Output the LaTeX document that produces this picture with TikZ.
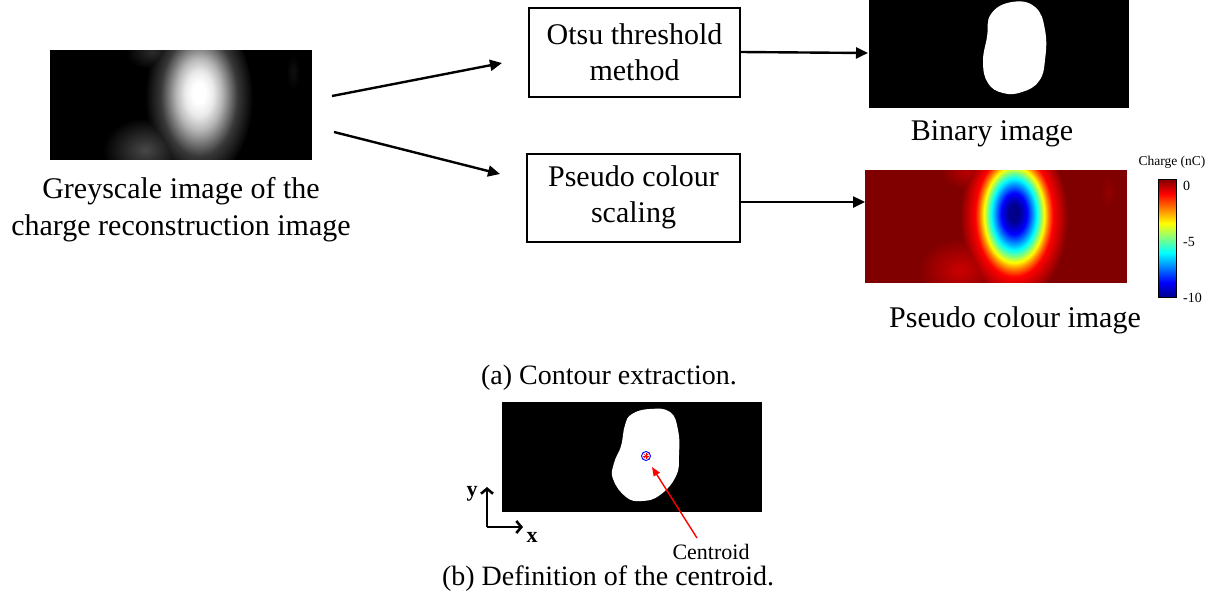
\documentclass[tikz,border=0pt]{standalone}
\usepackage{fontspec}
\setmainfont{Liberation Serif}
\usetikzlibrary{arrows.meta}
\definecolor{jdb}{rgb}{0,0,0.55}
\definecolor{jb}{rgb}{0,0,1}
\definecolor{jlb}{rgb}{0,0.5,1}
\definecolor{jc}{rgb}{0,1,1}
\definecolor{jg}{rgb}{0.5,1,0.5}
\definecolor{jy}{rgb}{1,1,0}
\definecolor{jo}{rgb}{1,0.5,0}
\definecolor{jr}{rgb}{1,0,0}
\definecolor{jdr}{rgb}{0.5,0,0}
\definecolor{gA}{gray}{1}
\definecolor{gB}{gray}{0.92}
\definecolor{gC}{gray}{0.72}
\definecolor{gD}{gray}{0.48}
\definecolor{gE}{gray}{0.22}
\definecolor{geA}{gray}{0.28}
\definecolor{geB}{gray}{0.17}
\definecolor{geC}{gray}{0.06}
\definecolor{peA}{rgb}{0.8,0,0}
\definecolor{peB}{rgb}{0.72,0,0}
\definecolor{peC}{rgb}{0.58,0,0}
\pgfdeclareradialshading{greyglow}{\pgfpoint{0bp}{2.5bp}}{color(0bp)=(gA); color(3bp)=(gA); color(6.5bp)=(gB); color(10.5bp)=(gC); color(14bp)=(gD); color(17.8bp)=(gE); color(25bp)=(black); color(50bp)=(black)}
\pgfdeclareradialshading{jetglow}{\pgfpoint{0bp}{2.5bp}}{color(0bp)=(jdb); color(2.5bp)=(jdb); color(6bp)=(jb); color(8.3bp)=(jlb); color(10.5bp)=(jc); color(12.3bp)=(jg); color(14bp)=(jy); color(15.8bp)=(jo); color(18bp)=(jr); color(25bp)=(jdr); color(50bp)=(jdr)}
\pgfdeclareradialshading{gextA}{\pgfpoint{0bp}{0bp}}{color(0bp)=(geA); color(25bp)=(black); color(50bp)=(black)}
\pgfdeclareradialshading{gextB}{\pgfpoint{0bp}{0bp}}{color(0bp)=(geB); color(25bp)=(black); color(50bp)=(black)}
\pgfdeclareradialshading{gextC}{\pgfpoint{0bp}{0bp}}{color(0bp)=(geC); color(25bp)=(black); color(50bp)=(black)}
\pgfdeclareradialshading{pextA}{\pgfpoint{0bp}{0bp}}{color(0bp)=(peA); color(25bp)=(jdr); color(50bp)=(jdr)}
\pgfdeclareradialshading{pextB}{\pgfpoint{0bp}{0bp}}{color(0bp)=(peB); color(25bp)=(jdr); color(50bp)=(jdr)}
\pgfdeclareradialshading{pextC}{\pgfpoint{0bp}{0bp}}{color(0bp)=(peC); color(25bp)=(jdr); color(50bp)=(jdr)}
\pgfdeclareverticalshading{jetbar}{100bp}{color(0bp)=(jdb); color(25bp)=(jdb); color(31.25bp)=(jb); color(43.75bp)=(jc); color(56.25bp)=(jy); color(68.75bp)=(jr); color(75bp)=(jdr); color(100bp)=(jdr)}
\newcommand\mainfs{\fontsize{30}{36}\selectfont}
\newcommand\capfs{\fontsize{28}{33}\selectfont}
\tikzset{
  procbox/.style={draw, line width=2pt, inner sep=0pt, align=center, font=\mainfs},
  imgnode/.style={inner sep=0pt, outer sep=0pt},
  lbl/.style={inner sep=0pt, align=center, font=\mainfs},
  arr/.style={line width=2.4pt, -{Triangle[length=12pt,width=11pt]}},
  axarr/.style={line width=2.6pt, -{Straight Barb[length=5pt,width=12pt]}},
}
\begin{document}
\begin{tikzpicture}[x=1pt,y=-1pt]
\useasboundingbox (0,0) rectangle (1222,598);
% ---- greyscale image
\node[imgnode, minimum width=262pt, minimum height=110pt] (grey) at (181,105) {};
\fill[black] (50,50) rectangle (312,160);
\begin{scope}
\clip (50.6,50.6) rectangle (311.4,159.4);
\shade[shading=greyglow] (199,101) ellipse (54 and 85);
\begin{scope}[blend mode=lighten]
\shade[shading=gextA] (145,150) ellipse (42 and 32);
\shade[shading=gextB] (152,52) ellipse (26 and 17);
\shade[shading=gextC] (293,72) ellipse (7 and 18);
\end{scope}
\end{scope}
\node[lbl] (greylbl) at (181,210) {Greyscale image of the\\[1pt]charge reconstruction image};
% ---- process boxes
\node[procbox, minimum width=211pt, minimum height=89pt] (otsu) at (634.5,52.5) {Otsu threshold\\method};
\node[procbox, minimum width=213pt, minimum height=88pt] (pcs) at (633.5,197.5) {Pseudo colour\\scaling};
% ---- binary image
\node[imgnode, minimum width=260pt, minimum height=108pt] (bin) at (999,54) {};
\fill[black] (869,0) rectangle (1129,108);
\fill[white] plot[smooth cycle, tension=0.75] coordinates {(1012,2) (1035,7) (1045,30) (1045,60) (1039,81) (1022,92) (1003,93) (988,83) (983,62) (987,37) (991,14)};
\node[lbl] (binlbl) at (992,134) {Binary image};
% ---- pseudo colour image
\node[imgnode, minimum width=262pt, minimum height=113pt] (pimg) at (996,226.5) {};
\fill[jdr] (865,170) rectangle (1127,283);
\begin{scope}
\clip (865.6,170.6) rectangle (1126.4,282.4);
\shade[shading=jetglow] (1014,221) ellipse (54 and 85);
\begin{scope}[blend mode=lighten]
\shade[shading=pextA] (960,270) ellipse (42 and 32);
\shade[shading=pextB] (967,172) ellipse (26 and 17);
\shade[shading=pextC] (1108,192) ellipse (7 and 18);
\end{scope}
\end{scope}
\node[lbl] (pimglbl) at (1015,320) {Pseudo colour image};
% ---- colour bar
\shade[shading=jetbar] (1158,179) rectangle (1176,297);
\node[imgnode, draw, line width=0.6pt, minimum width=18pt, minimum height=118pt] (cbar) at (1167,238) {};
\node[inner sep=0pt, font=\fontsize{13.5}{14}\selectfont] (cbtitle) at (1172,162) {Charge (nC)};
\node[inner sep=0pt, anchor=west, font=\fontsize{14}{14}\selectfont] (t0) at (1183,186) {0};
\node[inner sep=0pt, anchor=west, font=\fontsize{14}{14}\selectfont] (t5) at (1183,242) {-5};
\node[inner sep=0pt, anchor=west, font=\fontsize{14}{14}\selectfont] (t10) at (1183,298) {-10};
% ---- connectors
\coordinate (g1) at (332,96);
\coordinate (g2) at (334,132);
\coordinate (o1) at (502,63);
\coordinate (p1) at (500,174);
\coordinate (b1) at (868,53);
\coordinate (q1) at (865,202);
\draw[arr] (g1) -- (o1);
\draw[arr] (g2) -- (p1);
\draw[arr] (otsu.east |- 0,52) -- (b1);
\draw[arr] (pcs.east |- 0,202) -- (q1);
% ---- caption (a)
\node[inner sep=0pt, font=\capfs] (capa) at (609,378) {(a) Contour extraction.};
% ---- centroid figure
\node[imgnode, minimum width=260pt, minimum height=110pt] (cimg) at (632,457) {};
\fill[black] (502,402) rectangle (762,512);
\fill[white] plot[smooth cycle, tension=0.75] coordinates {(650,409) (670,412) (678,430) (679,455) (676,476) (660,495) (642,501) (626,497) (613,479) (614,463) (621,446) (625,425) (632,414)};
\coordinate (cen) at (646,456);
\draw[blue, line width=0.9pt] (cen) circle (4.5);
\foreach \a in {0,45,90,135} \draw[red, line width=0.7pt] (cen) ++(\a:3.4) -- ++(\a+180:6.8);
\coordinate (ax0) at (487,527);
\coordinate (axy) at (487,487);
\coordinate (axx) at (523,527);
\draw[axarr] (ax0) -- (axy);
\draw[axarr] (ax0) -- (axx);
\node[inner sep=0pt, font=\bfseries\fontsize{22}{22}\selectfont] (ylbl) at (472,494) {y};
\node[inner sep=0pt, font=\bfseries\fontsize{22}{22}\selectfont] (xlbl) at (532,537) {x};
\node[inner sep=0pt, font=\fontsize{22}{22}\selectfont] (cenlbl) at (711,552) {Centroid};
\coordinate (cs) at (697,538);
\draw[red, line width=1.4pt, -{Triangle[length=9pt,width=7pt]}] (cs) -- (652,467);
% ---- caption (b)
\node[inner sep=0pt, font=\capfs] (capb) at (608,579) {(b) Definition of the centroid.};
\end{tikzpicture}
\end{document}
